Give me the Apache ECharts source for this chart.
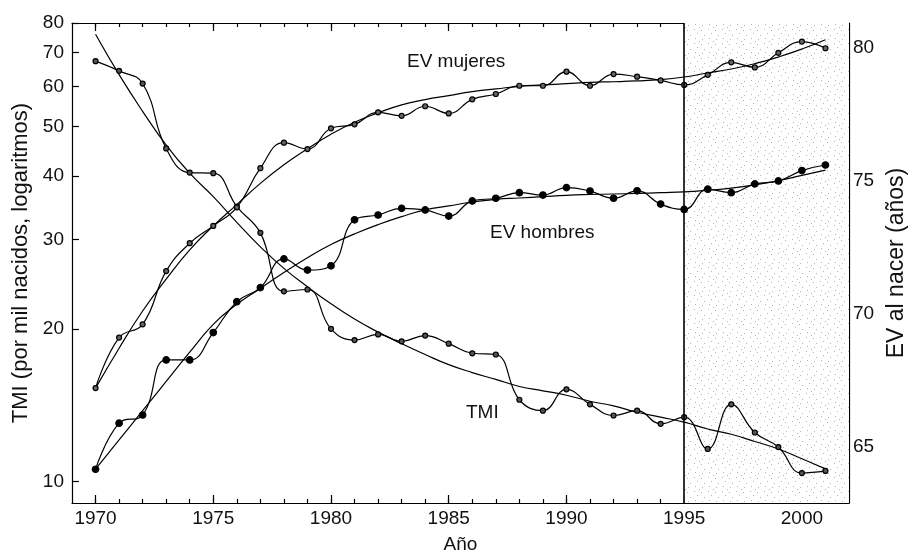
<!DOCTYPE html>
<html>
<head>
<meta charset="utf-8">
<script src="https://cdn.jsdelivr.net/npm/echarts@6/dist/echarts.min.js"></script>
<style>
  html, body { margin: 0; padding: 0; background: #fff; }
  #chart { width: 908px; height: 557px; }
</style>
</head>
<body>
<div id="chart"></div>
<script>
// años
const years = [1970, 1971, 1972, 1973, 1974, 1975, 1976, 1977, 1978, 1979,
  1980, 1981, 1982, 1983, 1984, 1985, 1986, 1987, 1988, 1989,
  1990, 1991, 1992, 1993, 1994, 1995, 1996, 1997, 1998, 1999, 2000, 2001];
const yearLabels = [1970, 1975, 1980, 1985, 1990, 1995, 2000];
const tmiTicks = [10, 20, 30, 40, 50, 60, 70, 80];
const evTicks = [65, 70, 75, 80];
const evMinorTicks = [63, 64, 65, 66, 67, 68, 69, 70, 71, 72, 73, 74, 75, 76, 77, 78, 79, 80];

// TMI, por mil nacidos
const tmi = [67.3, 64.4, 60.8, 45.3, 40.6, 40.5, 34.8, 30.9, 23.7, 23.9,
  20.0, 19.0, 19.5, 18.9, 19.4, 18.7, 17.9, 17.8, 14.5, 13.8,
  15.2, 14.2, 13.5, 13.8, 13.0, 13.4, 11.6, 14.2, 12.5, 11.7, 10.4, 10.5];
const tmiTrend = [76.0, 63.3, 53.6, 46.0, 40.5, 36.4, 32.4, 29.0, 26.3, 24.2,
  22.4, 20.9, 19.7, 18.7, 17.8, 17.0, 16.4, 15.9, 15.4, 15.1,
  14.8, 14.4, 14.1, 13.7, 13.4, 13.1, 12.7, 12.4, 12.0, 11.6, 11.1, 10.6];

// esperanza de vida al nacer
const evMujeres = [67.2, 69.1, 69.6, 71.6, 72.65, 73.3, 74.0, 75.47, 76.43, 76.19,
  76.97, 77.12, 77.57, 77.44, 77.8, 77.53, 78.06, 78.26, 78.57, 78.57,
  79.1, 78.57, 79.01, 78.91, 78.77, 78.6, 78.98, 79.45, 79.26, 79.81, 80.23, 79.98];
const evMujeresTrend = [67.2, 68.7, 70.1, 71.3, 72.4, 73.3, 74.1, 74.9, 75.6, 76.2,
  76.75, 77.2, 77.55, 77.85, 78.05, 78.2, 78.35, 78.45, 78.55, 78.6,
  78.65, 78.7, 78.72, 78.75, 78.8, 78.9, 79.05, 79.2, 79.4, 79.65, 79.95, 80.3];
const evHombres = [64.15, 65.88, 66.19, 68.26, 68.26, 69.29, 70.45, 70.98, 72.06, 71.64,
  71.8, 73.53, 73.71, 73.96, 73.9, 73.67, 74.24, 74.34, 74.55, 74.46,
  74.74, 74.61, 74.34, 74.62, 74.12, 73.92, 74.68, 74.55, 74.88, 74.99, 75.38, 75.59];
const evHombresTrend = [64.15, 65.25, 66.35, 67.45, 68.55, 69.6, 70.35, 70.95, 71.55, 72.1,
  72.6, 73.0, 73.35, 73.65, 73.9, 74.05, 74.2, 74.3, 74.35, 74.4,
  74.45, 74.48, 74.5, 74.52, 74.55, 74.58, 74.64, 74.72, 74.84, 75.0, 75.2, 75.4];

const reformStart = 1995;
const FONT = '"Liberation Sans", Arial, Helvetica, sans-serif';
const INK = '#111';

const pairs = (vals) => years.map((y, i) => [y, vals[i]]);

// punteado gris para el periodo de reforma
const dots = document.createElement('canvas');
dots.width = 14; dots.height = 14;
const ctx = dots.getContext('2d');
ctx.fillStyle = '#fff';
ctx.fillRect(0, 0, 14, 14);
ctx.fillStyle = '#b4b4b4';
[[1, 2], [8, 1], [4, 7], [11, 5], [2, 11], [9, 10], [13, 13]].forEach(([x, y]) => ctx.fillRect(x, y, 1, 1));

const chart = echarts.init(document.getElementById('chart'));

const xBase = { type: 'value', min: 1969, max: 2002, splitLine: { show: false } };
const tickLine = { color: '#000', width: 1.2 };

const dataLine = (name, vals, axis, fill, size) => ({
  name, type: 'line', yAxisIndex: axis, smooth: 0.45,
  data: pairs(vals), symbol: 'circle', symbolSize: size,
  lineStyle: { color: '#000', width: 1.2 },
  itemStyle: { color: fill, borderColor: '#000', borderWidth: 1.2 },
  z: 4
});
const trendLine = (name, vals, axis) => ({
  name, type: 'line', yAxisIndex: axis, smooth: true,
  data: pairs(vals), showSymbol: false, symbol: 'none',
  lineStyle: { color: '#000', width: 1.2 }, z: 3
});

const option = {
  animation: false,
  backgroundColor: '#fff',
  grid: { left: 72, right: 59, top: 23, bottom: 54, outerBoundsMode: 'none' },
  xAxis: [
    Object.assign({}, xBase, {
      position: 'bottom',
      axisLine: { lineStyle: tickLine },
      axisTick: { inside: true, length: 4, customValues: years, lineStyle: tickLine },
      axisLabel: { customValues: yearLabels, formatter: (v) => String(v), fontSize: 19, fontFamily: FONT, color: INK, margin: 6 },
      name: 'Año', nameLocation: 'middle', nameGap: 32,
      nameTextStyle: { fontSize: 19, fontFamily: FONT, color: INK }
    }),
    Object.assign({}, xBase, {
      position: 'bottom',
      axisLine: { show: false },
      axisTick: { inside: true, length: 8, customValues: yearLabels, lineStyle: tickLine },
      axisLabel: { show: false }
    }),
    Object.assign({}, xBase, {
      position: 'top',
      axisLine: { lineStyle: tickLine },
      axisTick: { inside: true, length: 4, customValues: years, lineStyle: tickLine },
      axisLabel: { show: false }
    }),
    Object.assign({}, xBase, {
      position: 'top',
      axisLine: { show: false },
      axisTick: { inside: true, length: 8, customValues: yearLabels, lineStyle: tickLine },
      axisLabel: { show: false }
    })
  ],
  yAxis: [
    {
      type: 'log', logBase: 10, min: 9.08, max: 80, position: 'left',
      splitLine: { show: false },
      axisLine: { show: true, lineStyle: tickLine },
      axisTick: { inside: true, length: 7, customValues: tmiTicks, lineStyle: tickLine },
      axisLabel: { customValues: tmiTicks, fontSize: 19, fontFamily: FONT, color: INK, margin: 8 },
      name: 'TMI (por mil nacidos, logaritmos)', nameLocation: 'middle', nameGap: 38,
      nameTextStyle: { fontSize: 22, fontFamily: FONT, color: INK }
    },
    {
      type: 'value', min: 62.88, max: 80.93, position: 'right',
      splitLine: { show: false },
      axisLine: { show: true, lineStyle: tickLine },
      axisTick: { inside: true, length: 5, customValues: evMinorTicks, lineStyle: tickLine },
      axisLabel: { customValues: evTicks, fontSize: 19, fontFamily: FONT, color: INK, margin: 4 },
      name: 'EV al nacer (años)', nameLocation: 'middle', nameGap: 35,
      nameTextStyle: { fontSize: 23, fontFamily: FONT, color: INK }
    },
    {
      type: 'value', min: 62.88, max: 80.93, position: 'right',
      splitLine: { show: false },
      axisLine: { show: false },
      axisTick: { inside: true, length: 8, customValues: evTicks, lineStyle: tickLine },
      axisLabel: { show: false }
    }
  ],
  series: [
    {
      name: 'Reforma', type: 'line', yAxisIndex: 1, data: [], silent: true,
      markArea: {
        silent: true,
        itemStyle: { color: { image: dots, repeat: 'repeat' } },
        data: [[{ xAxis: reformStart }, { xAxis: 2002 }]]
      },
      markLine: {
        silent: true, symbol: 'none', label: { show: false },
        lineStyle: { color: '#000', width: 1.6, type: 'solid' },
        data: [{ xAxis: reformStart }]
      },
      z: 1
    },
    trendLine('TMI tendencia', tmiTrend, 0),
    trendLine('EV mujeres tendencia', evMujeresTrend, 1),
    trendLine('EV hombres tendencia', evHombresTrend, 1),
    dataLine('TMI', tmi, 0, '#555', 5),
    dataLine('EV mujeres', evMujeres, 1, '#666', 5),
    dataLine('EV hombres', evHombres, 1, '#000', 6.5)
  ],
  graphic: [
    { type: 'text', x: 407, y: 62, style: { text: 'EV mujeres', font: '19px ' + FONT, fill: INK, verticalAlign: 'middle' } },
    { type: 'text', x: 490, y: 233, style: { text: 'EV hombres', font: '19px ' + FONT, fill: INK, verticalAlign: 'middle' } },
    { type: 'text', x: 466, y: 413, style: { text: 'TMI', font: '19px ' + FONT, fill: INK, verticalAlign: 'middle' } },
    { type: 'text', x: 728, y: 274, style: { text: 'Reforma', font: '19px ' + FONT, fill: INK, verticalAlign: 'middle' } }
  ]
};

chart.setOption(option);
</script>
</body>
</html>
